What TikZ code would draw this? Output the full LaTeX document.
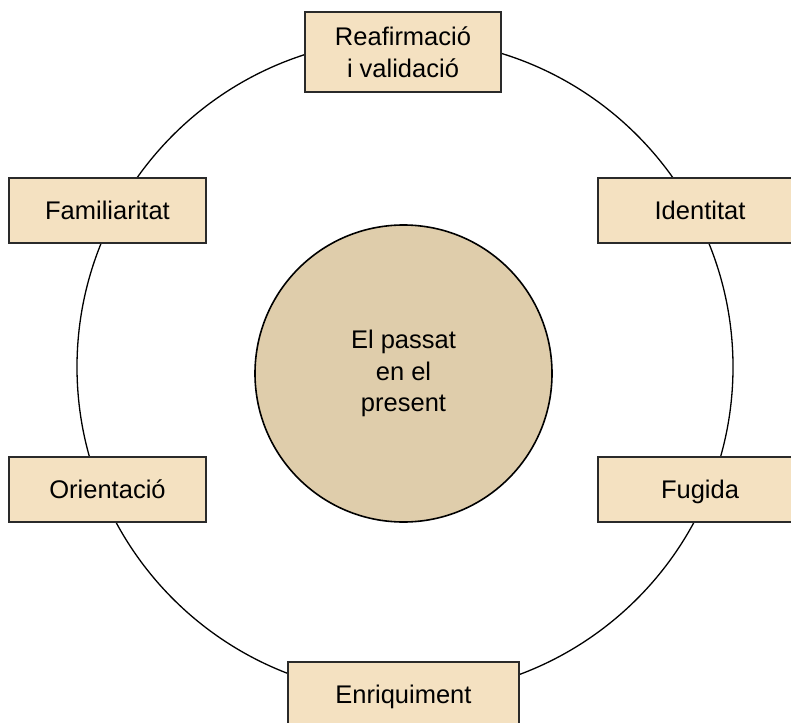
\documentclass[tikz,border=0pt]{standalone}
\usepackage{fontspec}
\setmainfont{Liberation Sans}
\definecolor{boxfill}{HTML}{F4E1C1}
\definecolor{corefill}{HTML}{DFCDAB}
\definecolor{boxline}{HTML}{2A2A2A}
\begin{document}
\begin{tikzpicture}[x=1pt,y=-1pt,
  lbl/.style={font=\fontsize{25.5}{31.5}\selectfont, align=center, text=black},
  ring/.style={circle, draw=black, line width=1.3pt, minimum size=656pt, inner sep=0pt},
  core/.style={circle, draw=black, line width=1.6pt, fill=corefill, minimum size=297pt, inner sep=0pt, lbl},
  facet/.style={rectangle, draw=boxline, line width=1.8pt, fill=boxfill, inner sep=0pt, lbl},
  oneline/.style={text height=21pt, text depth=3pt}
]
\useasboundingbox (0,0) rectangle (791,722);
% outer ring and central idea
\node[ring] (ring) at (405,367) {};
\node[core] (core) at (403.5,373.5) {El passat\\en el\\present};
% surrounding facets
\node[facet, minimum width=196pt, minimum height=80pt] (reaf) at (403,52) {Reafirmació\\i validació};
\node[facet, oneline, minimum width=197pt, minimum height=65pt] (fam) at (107.5,210.5) {Familiaritat};
\node[facet, oneline, minimum width=204pt, minimum height=65pt] (ident) at (700,210.5) {Identitat};
\node[facet, oneline, minimum width=197pt, minimum height=65pt] (orient) at (107.5,489.5) {Orientació};
\node[facet, oneline, minimum width=204pt, minimum height=65pt] (fug) at (700,489.5) {Fugida};
\node[facet, oneline, minimum width=231pt, minimum height=65pt] (enriq) at (403.5,694.5) {Enriquiment};
\end{tikzpicture}
\end{document}
